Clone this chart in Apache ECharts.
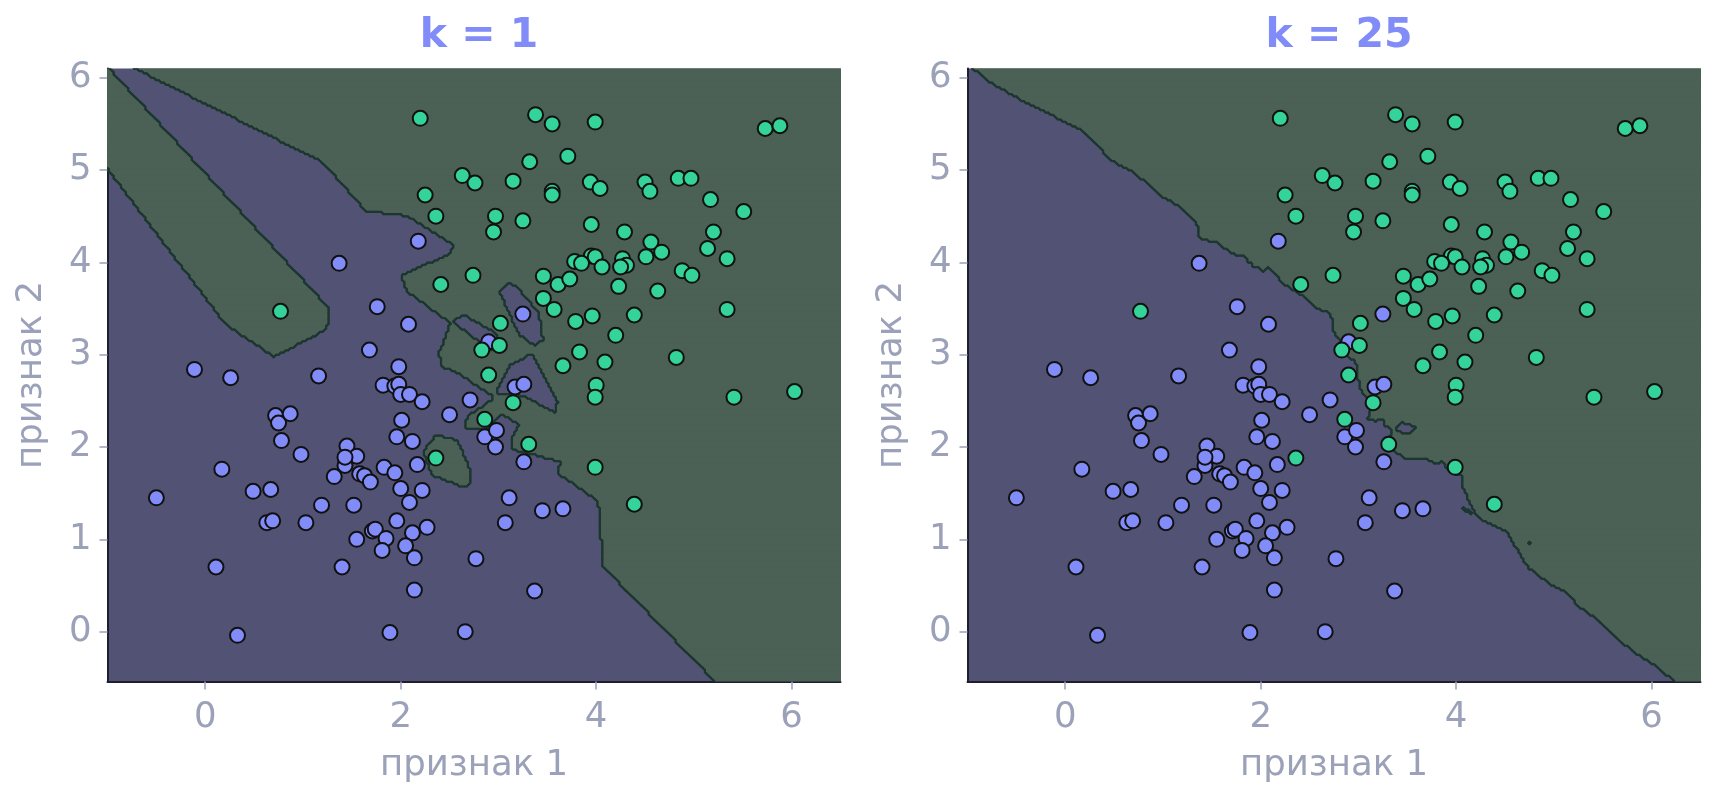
<!DOCTYPE html>
<html>
<head>
<meta charset="utf-8">
<script src="https://cdn.jsdelivr.net/npm/echarts@6/dist/echarts.min.js"></script>
<style>
  html, body { margin: 0; padding: 0; background: #fff; }
  #chart { width: 1721px; height: 801px; }
</style>
</head>
<body>
<div id="chart"></div>
<script>
// заголовки панелей и число соседей
const titles = ['k = 1', 'k = 25']
const kValues = [1, 25]
const xTicks = [0, 2, 4, 6]
const yTicks = [0, 1, 2, 3, 4, 5, 6]
const xName = 'признак 1'
const yName = 'признак 2'

// класс 0 (синие точки)
const class0Points = [
  [1.37, 3.99], [2.18, 4.23], [3.25, 3.44], [2.90, 3.14], [3.17, 2.65], [3.26, 2.68],
  [1.76, 3.52], [2.08, 3.33], [1.68, 3.05], [1.98, 2.87], [1.82, 2.67], [1.94, 2.66],
  [1.98, 2.68], [2.00, 2.57], [2.09, 2.57], [2.22, 2.49], [2.71, 2.51], [2.50, 2.35],
  [2.01, 2.29], [1.96, 2.11], [2.12, 2.06], [2.86, 2.11], [2.98, 2.18], [2.97, 2.00],
  [3.26, 1.84], [2.17, 1.81], [1.45, 2.01], [1.55, 1.90], [1.43, 1.80], [1.83, 1.78],
  [1.94, 1.72], [1.58, 1.71], [1.63, 1.69], [1.69, 1.62], [1.43, 1.89], [-0.11, 2.84],
  [0.26, 2.75], [1.16, 2.77], [0.72, 2.34], [0.75, 2.26], [0.87, 2.36], [0.78, 2.07],
  [0.98, 1.92], [0.17, 1.76], [1.32, 1.68], [-0.50, 1.45], [0.49, 1.52], [0.67, 1.54],
  [1.19, 1.37], [0.63, 1.18], [0.69, 1.20], [1.03, 1.18], [1.52, 1.37], [0.11, 0.70],
  [1.40, 0.70], [0.33, -0.04], [2.00, 1.55], [2.22, 1.53], [2.09, 1.40], [3.11, 1.45],
  [3.45, 1.31], [3.66, 1.33], [3.07, 1.18], [1.96, 1.20], [1.71, 1.09], [1.74, 1.11],
  [1.55, 1.00], [1.85, 1.01], [2.12, 1.07], [2.27, 1.13], [1.81, 0.88], [2.05, 0.93],
  [2.14, 0.80], [2.77, 0.79], [2.14, 0.45], [3.37, 0.44], [1.89, -0.01], [2.66, 0.00]
]

// класс 1 (зелёные точки)
const class1Points = [
  [2.20, 5.56], [3.38, 5.60], [3.55, 5.50], [3.99, 5.52], [3.71, 5.15], [3.32, 5.09],
  [2.63, 4.94], [2.76, 4.86], [3.15, 4.88], [3.94, 4.87], [3.55, 4.77], [3.55, 4.73],
  [2.25, 4.73], [2.36, 4.50], [2.97, 4.50], [2.95, 4.33], [3.25, 4.45], [3.95, 4.41],
  [5.73, 5.45], [5.88, 5.48], [4.04, 4.80], [4.50, 4.87], [4.55, 4.77], [4.84, 4.91],
  [4.97, 4.91], [5.17, 4.68], [5.51, 4.55], [4.29, 4.33], [5.20, 4.33], [4.56, 4.22],
  [4.67, 4.11], [4.51, 4.06], [5.14, 4.15], [5.34, 4.04], [4.27, 4.04], [4.31, 3.97],
  [4.25, 3.95], [3.95, 4.07], [3.99, 4.06], [4.06, 3.95], [4.88, 3.91], [4.98, 3.86],
  [4.23, 3.74], [4.63, 3.69], [5.34, 3.49], [3.96, 3.42], [4.39, 3.43], [4.20, 3.21],
  [4.82, 2.97], [4.09, 2.92], [4.00, 2.67], [3.99, 2.54], [5.41, 2.54], [6.03, 2.60],
  [3.99, 1.78], [4.39, 1.38], [0.77, 3.47], [2.74, 3.86], [2.41, 3.76], [3.46, 3.85],
  [3.61, 3.76], [3.73, 3.82], [3.78, 4.01], [3.85, 3.99], [3.46, 3.61], [3.57, 3.49],
  [3.79, 3.36], [3.02, 3.34], [3.01, 3.10], [2.83, 3.05], [3.83, 3.03], [3.66, 2.88],
  [2.90, 2.78], [3.15, 2.48], [2.86, 2.30], [3.31, 2.03], [2.36, 1.88]
]

// границы области и шаг сетки
const xMin = -1.0
const xMax = 6.5
const yMin = -0.54
const yMax = 6.1
const step = 0.025

const blueRegion = '#525374'
const greenRegion = '#4b6155'
const edgeColor = '#1c3630'
const blueDot = '#818cf8'
const greenDot = '#34d399'
const textColor = '#9ba1b8'
const spineColor = '#1e1e30'
const font = 'DejaVu Sans'

const allPoints = class0Points.map(p => [p[0], p[1], 0])
  .concat(class1Points.map(p => [p[0], p[1], 1]))

// предсказание kNN на сетке
function classifyGrid(k) {
  const nx = Math.round((xMax - xMin) / step) + 1
  const ny = Math.round((yMax - yMin) / step) + 1
  const n = allPoints.length
  const dist = new Float64Array(n)
  const grid = []
  for (let j = 0; j < ny; j++) {
    const gy = yMin + j * step
    const row = new Uint8Array(nx)
    for (let i = 0; i < nx; i++) {
      const gx = xMin + i * step
      for (let p = 0; p < n; p++) {
        const dx = allPoints[p][0] - gx
        const dy = allPoints[p][1] - gy
        dist[p] = dx * dx + dy * dy
      }
      let votes = 0
      if (k === 1) {
        let best = 0
        for (let p = 1; p < n; p++) if (dist[p] < dist[best]) best = p
        votes = allPoints[best][2]
      } else {
        const sorted = dist.slice().sort()
        const limit = sorted[k - 1]
        for (let p = 0; p < n; p++) if (dist[p] <= limit) votes += allPoints[p][2]
      }
      row[i] = votes * 2 > k ? 1 : 0
    }
    grid.push(row)
  }
  return { grid, nx, ny }
}

// прямоугольники зелёной области (по строкам)
function buildRects(res) {
  const rects = []
  for (let j = 0; j < res.ny; j++) {
    const row = res.grid[j]
    let i = 0
    while (i < res.nx) {
      if (row[i] === 1) {
        const start = i
        while (i < res.nx && row[i] === 1) i++
        rects.push([
          xMin + (start - 0.5) * step, xMin + (i - 0.5) * step,
          yMin + (j - 0.5) * step, yMin + (j + 0.5) * step
        ])
      } else {
        i++
      }
    }
  }
  return rects
}

// линия границы: marching squares
function buildEdges(res) {
  const segs = []
  const g = res.grid
  const px = i => xMin + i * step
  const py = j => yMin + j * step
  for (let j = 0; j < res.ny - 1; j++) {
    for (let i = 0; i < res.nx - 1; i++) {
      const a = g[j][i], b = g[j][i + 1], c = g[j + 1][i + 1], d = g[j + 1][i]
      const code = a + b * 2 + c * 4 + d * 8
      if (code === 0 || code === 15) continue
      const B = [px(i + 0.5), py(j)]
      const R = [px(i + 1), py(j + 0.5)]
      const T = [px(i + 0.5), py(j + 1)]
      const L = [px(i), py(j + 0.5)]
      const add = (p, q) => segs.push([p[0], q[0], p[1], q[1]])
      switch (code) {
        case 1: case 14: add(L, B); break
        case 2: case 13: add(B, R); break
        case 3: case 12: add(L, R); break
        case 4: case 11: add(R, T); break
        case 6: case 9: add(B, T); break
        case 7: case 8: add(L, T); break
        case 5: add(L, B); add(R, T); break
        case 10: add(B, R); add(L, T); break
      }
    }
  }
  return segs
}

function renderRect(params, api) {
  const p0 = api.coord([api.value(0), api.value(3)])
  const p1 = api.coord([api.value(1), api.value(2)])
  return {
    type: 'rect',
    shape: { x: p0[0], y: p0[1] - 0.3, width: p1[0] - p0[0], height: p1[1] - p0[1] + 0.6 },
    style: { fill: greenRegion }
  }
}

function renderEdge(params, api) {
  const p0 = api.coord([api.value(0), api.value(2)])
  const p1 = api.coord([api.value(1), api.value(3)])
  return {
    type: 'line',
    shape: { x1: p0[0], y1: p0[1], x2: p1[0], y2: p1[1] },
    style: { stroke: edgeColor, lineWidth: 2.2, lineCap: 'round' }
  }
}

const grids = [
  { left: 107.5, right: 880.5, top: 68.5, bottom: 119.5 },
  { left: 967.5, right: 20.5, top: 68.5, bottom: 119.5 }
]

const option = {
  animation: false,
  backgroundColor: '#ffffff',
  title: titles.map((t, idx) => ({
    text: t,
    left: grids[idx].left + (1721 - grids[idx].left - grids[idx].right) / 2,
    top: 11,
    textAlign: 'center',
    textStyle: { fontFamily: font, fontSize: 41, fontWeight: 'bold', color: blueDot }
  })),
  grid: grids.map(g => ({
    ...g,
    show: true,
    backgroundColor: blueRegion,
    borderWidth: 0
  })),
  xAxis: grids.map((g, idx) => ({
    type: 'value',
    gridIndex: idx,
    min: xMin,
    max: xMax,
    name: xName,
    nameLocation: 'middle',
    nameGap: 66,
    nameTextStyle: { fontFamily: font, fontSize: 35.5, color: textColor },
    axisLine: { show: true, onZero: false, lineStyle: { color: spineColor, width: 2 } },
    axisTick: { show: true, length: 8, customValues: xTicks, lineStyle: { color: textColor, width: 1.5 } },
    axisLabel: { customValues: xTicks, fontFamily: font, fontSize: 35.5, color: textColor, margin: 18 },
    splitLine: { show: false }
  })),
  yAxis: grids.map((g, idx) => ({
    type: 'value',
    gridIndex: idx,
    min: yMin,
    max: yMax,
    name: yName,
    nameLocation: 'middle',
    nameGap: 58,
    nameTextStyle: { fontFamily: font, fontSize: 35.5, color: textColor },
    axisLine: { show: true, onZero: false, lineStyle: { color: spineColor, width: 2 } },
    axisTick: { show: true, length: 8, customValues: yTicks, lineStyle: { color: textColor, width: 1.5 } },
    axisLabel: { customValues: yTicks, fontFamily: font, fontSize: 35.5, color: textColor, margin: 16 },
    splitLine: { show: false }
  })),
  series: []
}

kValues.forEach((k, idx) => {
  const res = classifyGrid(k)
  option.series.push({
    type: 'custom',
    xAxisIndex: idx,
    yAxisIndex: idx,
    renderItem: renderRect,
    data: buildRects(res),
    encode: { x: [0, 1], y: [2, 3] },
    clip: true,
    silent: true,
    z: 1
  })
  option.series.push({
    type: 'custom',
    xAxisIndex: idx,
    yAxisIndex: idx,
    renderItem: renderEdge,
    data: buildEdges(res),
    encode: { x: [0, 1], y: [2, 3] },
    clip: true,
    silent: true,
    z: 2
  })
  option.series.push({
    type: 'scatter',
    xAxisIndex: idx,
    yAxisIndex: idx,
    data: class0Points,
    symbolSize: 15,
    itemStyle: { color: blueDot, borderColor: '#111111', borderWidth: 2, opacity: 1 },
    z: 3
  })
  option.series.push({
    type: 'scatter',
    xAxisIndex: idx,
    yAxisIndex: idx,
    data: class1Points,
    symbolSize: 15,
    itemStyle: { color: greenDot, borderColor: '#111111', borderWidth: 2, opacity: 1 },
    z: 3
  })
})

const chart = echarts.init(document.getElementById('chart'), null, { renderer: 'canvas' })
chart.setOption(option)
</script>
</body>
</html>
